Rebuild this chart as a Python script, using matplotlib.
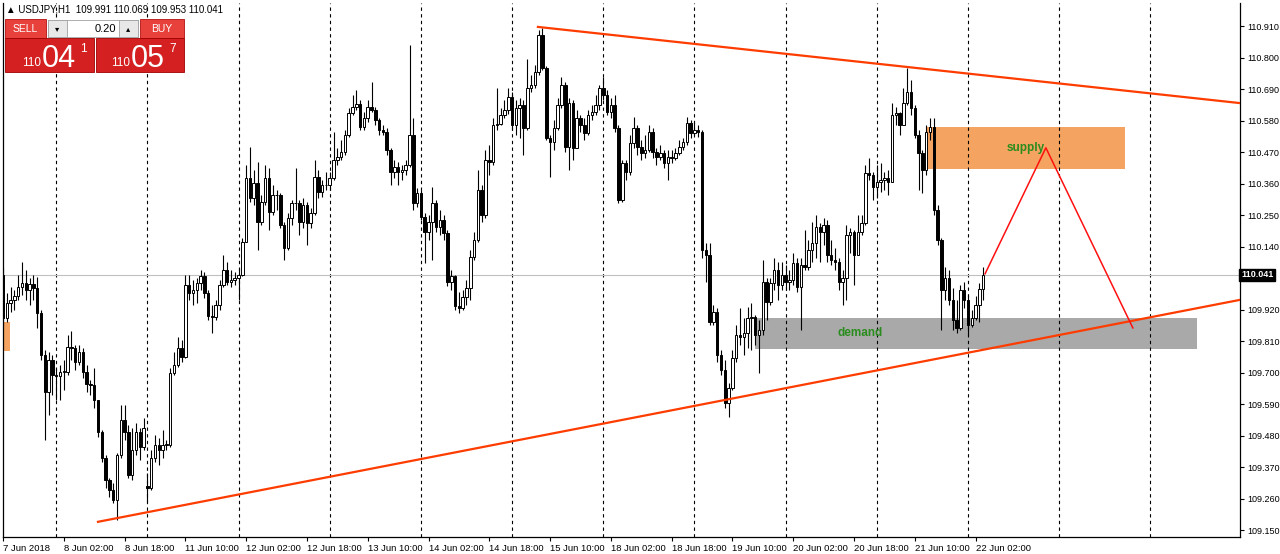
import numpy as np
import matplotlib.pyplot as plt
from matplotlib.patches import Rectangle
from matplotlib.transforms import blended_transform_factory

plt.rcParams['font.family'] = ['Liberation Sans', 'DejaVu Sans']

# USDJPY H1, 7 Jun 2018 10:00 .. 22 Jun 2018 04:00 (bar index 0 = 8 Jun 00:00)
first_bar = -14
first_open = 110.041
gap_opens = {38: 109.305}  # Monday 11 Jun open gap

closes = [
    # 7 Jun
    109.891, 109.944, 109.954, 109.968, 109.999, 110.013, 109.989, 110.010, 109.996, 109.909, 109.762, 109.633, 109.745, 109.692,
    # 8 Jun
    109.689, 109.703, 109.703, 109.790, 109.787, 109.738, 109.772, 109.703, 109.661, 109.657, 109.605, 109.493,
    109.403, 109.326, 109.291, 109.256, 109.413, 109.535, 109.493, 109.343, 109.430, 109.493, 109.441, 109.507,
    # 11 Jun
    109.298, 109.403, 109.448, 109.430, 109.448, 109.448, 109.699, 109.727, 109.787, 109.755, 110.006, 109.978,
    109.989, 110.013, 110.038, 109.978, 109.898, 109.895, 109.937, 110.006, 110.059, 110.017, 110.024, 110.031,
    # 12 Jun
    110.041, 110.156, 110.380, 110.310, 110.362, 110.226, 110.296, 110.380, 110.261, 110.320, 110.320, 110.216,
    110.135, 110.240, 110.292, 110.292, 110.226, 110.285, 110.223, 110.258, 110.383, 110.331, 110.355, 110.355,
    # 13 Jun
    110.380, 110.443, 110.453, 110.470, 110.530, 110.607, 110.627, 110.638, 110.558, 110.589, 110.627, 110.617,
    110.582, 110.547, 110.540, 110.477, 110.401, 110.418, 110.401, 110.408, 110.425, 110.530, 110.292, 110.327,
    # 14 Jun
    110.244, 110.191, 110.226, 110.292, 110.209, 110.233, 110.188, 110.017, 110.038, 109.933, 109.926, 109.964,
    109.996, 110.104, 110.163, 110.338, 110.251, 110.443, 110.436, 110.565, 110.568, 110.600, 110.617, 110.662,
    # 15 Jun
    110.565, 110.624, 110.634, 110.554, 110.694, 110.704, 110.750, 110.879, 110.764, 110.519, 110.505, 110.554,
    110.634, 110.704, 110.488, 110.641, 110.484, 110.589, 110.565, 110.537, 110.600, 110.610, 110.634, 110.694,
    # 18 Jun
    110.669, 110.610, 110.634, 110.554, 110.303, 110.432, 110.401, 110.502, 110.554, 110.488, 110.467, 110.477,
    110.540, 110.470, 110.453, 110.467, 110.432, 110.453, 110.450, 110.467, 110.488, 110.505, 110.572, 110.537,
    # 19 Jun
    110.547, 110.540, 110.128, 110.111, 109.877, 109.912, 109.762, 109.710, 109.595, 109.647, 109.751, 109.832,
    109.825, 109.839, 109.891, 109.895, 109.832, 109.849, 110.017, 109.947, 110.013, 110.059, 110.006, 110.041,
    # 20 Jun
    110.017, 110.024, 110.083, 109.999, 110.076, 110.069, 110.128, 110.153, 110.209, 110.191, 110.216, 110.111,
    110.094, 110.087, 110.017, 110.031, 110.181, 110.191, 110.111, 110.191, 110.223, 110.397, 110.390, 110.348,
    # 21 Jun
    110.366, 110.373, 110.380, 110.366, 110.600, 110.607, 110.565, 110.641, 110.680, 110.624, 110.530, 110.467,
    110.408, 110.540, 110.558, 110.268, 110.163, 109.989, 110.031, 109.954, 109.884, 109.856, 109.989, 109.954,
    # 22 Jun
    109.867, 109.891, 109.937, 109.991, 110.041,
]

highs = [
    110.066, 109.978, 109.999, 109.989, 110.041, 110.087, 110.059, 110.031, 110.041, 110.034, 109.919, 109.779, 109.772, 109.762,
    109.717, 109.727, 109.745, 109.832, 109.846, 109.797, 109.797, 109.787, 109.727, 109.675, 109.717, 109.605,
    109.500, 109.413, 109.333, 109.315, 109.420, 109.588, 109.588, 109.518, 109.507, 109.525, 109.507, 109.542,
    109.350, 109.430, 109.483, 109.472, 109.500, 109.465, 109.717, 109.772, 109.825, 109.815, 110.041, 110.041,
    110.024, 110.031, 110.059, 110.052, 109.989, 109.937, 109.954, 110.024, 110.111, 110.087, 110.059, 110.052,
    110.066, 110.170, 110.425, 110.488, 110.408, 110.436, 110.320, 110.425, 110.415, 110.355, 110.338, 110.327,
    110.226, 110.258, 110.303, 110.415, 110.303, 110.310, 110.296, 110.275, 110.443, 110.408, 110.373, 110.401,
    110.401, 110.540, 110.484, 110.512, 110.547, 110.624, 110.669, 110.687, 110.652, 110.610, 110.652, 110.715,
    110.627, 110.589, 110.565, 110.554, 110.484, 110.443, 110.436, 110.425, 110.443, 110.844, 110.589, 110.345,
    110.338, 110.258, 110.251, 110.348, 110.303, 110.268, 110.251, 110.198, 110.059, 110.041, 109.982, 109.989,
    110.024, 110.128, 110.191, 110.408, 110.355, 110.477, 110.495, 110.589, 110.694, 110.624, 110.652, 110.694,
    110.680, 110.652, 110.659, 110.652, 110.795, 110.739, 110.774, 110.896, 110.903, 110.771, 110.530, 110.582,
    110.659, 110.732, 110.715, 110.659, 110.652, 110.617, 110.600, 110.589, 110.617, 110.634, 110.669, 110.704,
    110.732, 110.687, 110.659, 110.669, 110.565, 110.443, 110.443, 110.530, 110.593, 110.565, 110.512, 110.530,
    110.565, 110.554, 110.484, 110.495, 110.477, 110.477, 110.477, 110.484, 110.512, 110.519, 110.593, 110.582,
    110.575, 110.565, 110.547, 110.153, 110.153, 109.937, 109.926, 109.779, 109.745, 109.664, 109.779, 109.867,
    109.926, 109.891, 109.930, 109.944, 109.902, 109.884, 110.094, 110.031, 110.031, 110.101, 110.087, 110.087,
    110.076, 110.059, 110.118, 110.101, 110.101, 110.198, 110.163, 110.226, 110.251, 110.223, 110.240, 110.233,
    110.163, 110.135, 110.101, 110.059, 110.216, 110.205, 110.198, 110.251, 110.251, 110.425, 110.450, 110.401,
    110.425, 110.432, 110.401, 110.408, 110.641, 110.627, 110.610, 110.694, 110.764, 110.722, 110.634, 110.547,
    110.477, 110.565, 110.589, 110.589, 110.285, 110.170, 110.069, 110.059, 109.996, 109.954, 110.006, 110.017,
    109.971, 109.919, 109.968, 110.013, 110.069,
]

lows = [
    109.867, 109.877, 109.912, 109.919, 109.954, 109.971, 109.954, 109.937, 109.954, 109.856, 109.745, 109.465, 109.553, 109.622,
    109.605, 109.605, 109.640, 109.692, 109.745, 109.710, 109.727, 109.682, 109.633, 109.622, 109.577, 109.476,
    109.389, 109.298, 109.266, 109.246, 109.186, 109.403, 109.465, 109.333, 109.326, 109.413, 109.395, 109.430,
    109.249, 109.291, 109.389, 109.378, 109.403, 109.430, 109.441, 109.692, 109.720, 109.738, 109.751, 109.954,
    109.937, 109.944, 109.989, 109.961, 109.884, 109.839, 109.884, 109.919, 109.999, 110.006, 109.999, 110.006,
    109.954, 110.038, 110.156, 110.296, 110.285, 110.128, 110.216, 110.285, 110.198, 110.251, 110.268, 110.205,
    110.094, 110.128, 110.216, 110.268, 110.181, 110.205, 110.146, 110.205, 110.251, 110.310, 110.313, 110.338,
    110.338, 110.373, 110.425, 110.443, 110.460, 110.523, 110.600, 110.617, 110.547, 110.547, 110.575, 110.610,
    110.565, 110.530, 110.530, 110.460, 110.355, 110.380, 110.355, 110.373, 110.390, 110.418, 110.268, 110.279,
    110.233, 110.083, 110.163, 110.094, 110.191, 110.181, 110.163, 110.003, 109.989, 109.919, 109.909, 109.919,
    109.937, 109.954, 110.094, 110.156, 110.226, 110.240, 110.390, 110.425, 110.547, 110.565, 110.589, 110.603,
    110.547, 110.530, 110.519, 110.460, 110.547, 110.680, 110.694, 110.739, 110.757, 110.512, 110.383, 110.477,
    110.547, 110.624, 110.470, 110.408, 110.443, 110.512, 110.540, 110.512, 110.530, 110.582, 110.600, 110.617,
    110.652, 110.600, 110.589, 110.540, 110.292, 110.296, 110.373, 110.390, 110.484, 110.460, 110.443, 110.450,
    110.470, 110.450, 110.425, 110.443, 110.415, 110.373, 110.432, 110.443, 110.460, 110.477, 110.495, 110.519,
    110.530, 110.523, 110.101, 110.017, 109.867, 109.867, 109.738, 109.692, 109.577, 109.546, 109.640, 109.738,
    109.797, 109.762, 109.787, 109.779, 109.797, 109.699, 109.832, 109.884, 109.937, 109.989, 109.954, 109.989,
    109.989, 109.989, 110.006, 109.982, 109.849, 110.059, 110.059, 110.087, 110.101, 110.087, 110.146, 110.087,
    110.076, 110.059, 109.989, 109.937, 109.954, 110.118, 110.006, 110.128, 110.181, 110.216, 110.373, 110.303,
    110.310, 110.331, 110.338, 110.320, 110.366, 110.565, 110.530, 110.565, 110.634, 110.600, 110.519, 110.338,
    110.327, 110.390, 110.512, 110.251, 110.146, 109.849, 109.954, 109.937, 109.849, 109.839, 109.849, 109.926,
    109.832, 109.860, 109.884, 109.877, 109.953,
]

price_ticks = [110.910, 110.800, 110.690, 110.580, 110.470, 110.360, 110.250,
               110.140, 109.920, 109.810, 109.700, 109.590, 109.480, 109.370,
               109.260, 109.150]
last_price = 110.041

date_ticks = [-14, 2, 18, 34, 50, 66, 82, 98, 114, 130, 146, 162, 178, 194, 210, 226, 242]
date_labels = ['7 Jun 2018', '8 Jun 02:00', '8 Jun 18:00', '11 Jun 10:00', '12 Jun 02:00',
               '12 Jun 18:00', '13 Jun 10:00', '14 Jun 02:00', '14 Jun 18:00', '15 Jun 10:00',
               '18 Jun 02:00', '18 Jun 18:00', '19 Jun 10:00', '20 Jun 02:00', '20 Jun 18:00',
               '21 Jun 10:00', '22 Jun 02:00']
day_starts = [0, 24, 48, 72, 96, 120, 144, 168, 192, 216, 240, 264, 288]

# drawings (bar index, price)
upper_trend = ([126.8, 311.6], [110.907, 110.641])
lower_trend = ([11.0, 311.6], [109.179, 109.954])
zigzag = ([244.5, 260.5, 283.4], [110.045, 110.485, 109.856])
supply_zone = (228.9, 281.3, 110.411, 110.558)
demand_zone = (183.9, 300.3, 109.783, 109.891)
old_zone = (-16.0, -12.2, 109.776, 109.877)

assert len(closes) == len(highs) == len(lows) == 259

n = len(closes)
idx = np.arange(first_bar, first_bar + n)
opens = [first_open] + closes[:-1]
for k, v in gap_opens.items():
    opens[k] = v
o = np.array(opens)
c = np.array(closes)
h = np.maximum(np.array(highs), np.maximum(o, c))
l = np.minimum(np.array(lows), np.minimum(o, c))

fig = plt.figure(figsize=(12.8, 5.54), dpi=100)
ax = fig.add_axes([3 / 1280, 17 / 554, 1237 / 1280, 534 / 554])
ax.set_xlim(-13.95, 311.6)
ax.set_ylim(109.126, 110.9905)

for d in day_starts:
    ax.axvline(d, color='black', lw=0.8, ls=(0, (3, 3)), zorder=1)

ax.axhline(last_price, color='#c0c0c0', lw=0.8, zorder=1)

x0, x1, y0, y1 = old_zone
ax.add_patch(Rectangle((x0, y0), x1 - x0, y1 - y0, color='#f4a460', zorder=0.5, lw=0))
x0, x1, y0, y1 = supply_zone
ax.add_patch(Rectangle((x0, y0), x1 - x0, y1 - y0, color='#f4a460', zorder=0.5, lw=0))
ax.text((x0 + x1) / 2, (y0 + y1) / 2, 'supply', color='#2a8c1e', fontsize=8.5,
        fontweight='bold', ha='center', va='center', zorder=5)
x0, x1, y0, y1 = demand_zone
ax.add_patch(Rectangle((x0, y0), x1 - x0, y1 - y0, color='#a9a9a9', zorder=0.5, lw=0))
ax.text(211.6, (y0 + y1) / 2, 'demand', color='#2a8c1e', fontsize=8.5,
        fontweight='bold', ha='center', va='center', zorder=5)

# candles
up = c >= o
ax.vlines(idx, l, h, color='black', lw=0.8, zorder=2)
body = np.maximum(np.abs(c - o), 0.0015)
bottom = np.minimum(o, c)
ax.bar(idx[up], body[up], bottom=bottom[up], width=0.66, color='white',
       edgecolor='black', lw=0.7, zorder=3)
ax.bar(idx[~up], body[~up], bottom=bottom[~up], width=0.66, color='black',
       edgecolor='black', lw=0.7, zorder=3)

ax.plot(*upper_trend, color='#ff3c00', lw=1.6, zorder=4)
ax.plot(*lower_trend, color='#ff3c00', lw=1.6, zorder=4)
ax.plot(*zigzag, color='#ff1010', lw=1.1, zorder=4)

# axes look
ax.spines['top'].set_visible(False)
for s in ['left', 'right', 'bottom']:
    ax.spines[s].set_linewidth(0.9)
ax.yaxis.tick_right()
ax.set_yticks(price_ticks)
ax.set_yticklabels(['%.3f' % p for p in price_ticks])
ax.tick_params(axis='y', labelsize=6.5, length=3, width=0.8, pad=2)
ax.set_xticks(date_ticks)
ax.set_xticklabels(date_labels)
ax.tick_params(axis='x', labelsize=6.8, length=3, width=0.8, pad=2)
for lbl in ax.get_xticklabels():
    lbl.set_ha('left')
trans = blended_transform_factory(ax.transAxes, ax.transData)
ax.text(1.001, last_price, '110.041', transform=trans, fontsize=6.5, color='white',
        va='center', ha='left', fontweight='bold',
        bbox=dict(boxstyle='square,pad=0.2', fc='black', ec='black'))

# header and one-click trading panel (pixel overlay)
ov = fig.add_axes([0, 0, 1, 1], facecolor='none')
ov.set_xlim(0, 1280)
ov.set_ylim(554, 0)
ov.axis('off')
ov.text(6, 9, '\u25b2 USDJPY,H1  109.991 110.069 109.953 110.041', fontsize=7,
        va='center', ha='left', family=['Liberation Sans', 'DejaVu Sans'])
red = '#d42020'
ov.add_patch(Rectangle((5, 19), 41, 19, fc='#e8403a', ec='#b01010', lw=0.6))
ov.text(25, 28.5, 'SELL', color='white', fontsize=7.5, ha='center', va='center')
ov.add_patch(Rectangle((140, 19), 44, 19, fc='#e8403a', ec='#b01010', lw=0.6))
ov.text(162, 28.5, 'BUY', color='white', fontsize=7.5, ha='center', va='center')
ov.add_patch(Rectangle((48, 20), 90, 17, fc='white', ec='#a0a0a0', lw=0.6))
ov.add_patch(Rectangle((48, 20), 19, 17, fc='#e8e8e8', ec='#a0a0a0', lw=0.6))
ov.add_patch(Rectangle((119, 20), 19, 17, fc='#e8e8e8', ec='#a0a0a0', lw=0.6))
ov.text(57.5, 28.5, '\u25be', fontsize=6, ha='center', va='center', family='DejaVu Sans')
ov.text(128.5, 28.5, '\u25b4', fontsize=6, ha='center', va='center', family='DejaVu Sans')
ov.text(116, 28.5, '0.20', fontsize=8, ha='right', va='center')
ov.add_patch(Rectangle((5, 38), 89, 34, fc=red, ec='#a00000', lw=0.6))
ov.add_patch(Rectangle((96, 38), 88, 34, fc=red, ec='#a00000', lw=0.6))
ov.text(22, 66, '110', color='white', fontsize=8.5, ha='left', va='baseline')
ov.text(42, 67, '04', color='white', fontsize=22, ha='left', va='baseline')
ov.text(80, 52, '1', color='white', fontsize=8.5, ha='left', va='baseline')
ov.text(111, 66, '110', color='white', fontsize=8.5, ha='left', va='baseline')
ov.text(131, 67, '05', color='white', fontsize=22, ha='left', va='baseline')
ov.text(169, 52, '7', color='white', fontsize=8.5, ha='left', va='baseline')

fig.savefig('out.png', dpi=100)
